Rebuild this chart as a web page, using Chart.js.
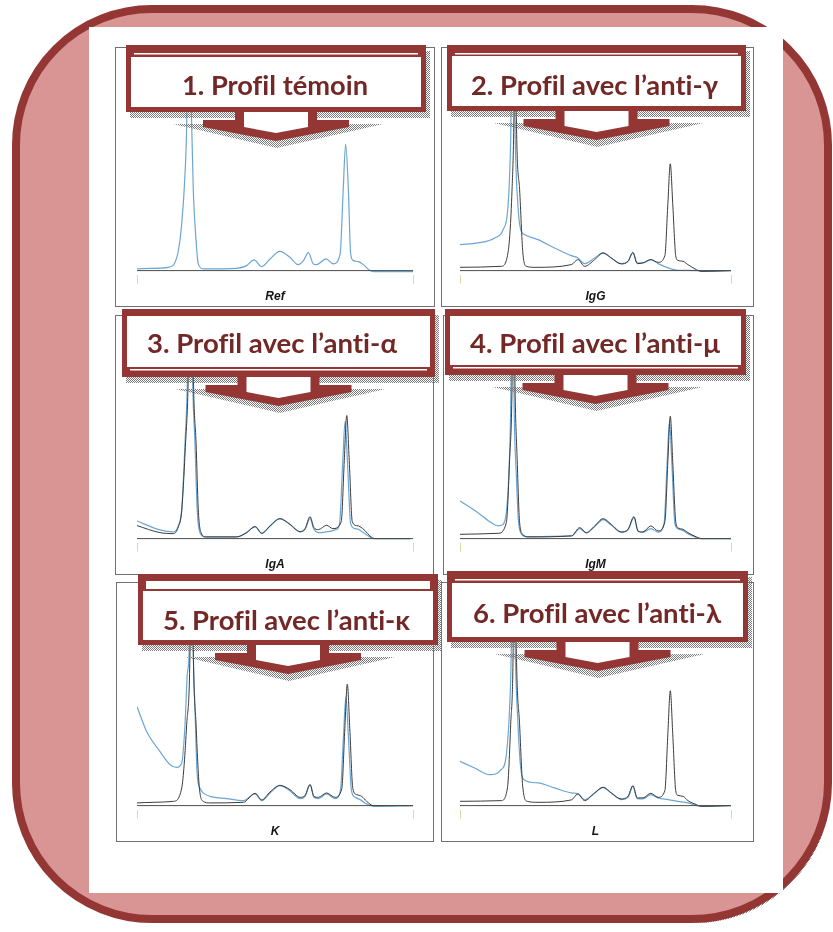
<!DOCTYPE html>
<html lang="fr">
<head>
<meta charset="utf-8">
<title>Immunosoustraction – profils électrophorétiques</title>
<script src="https://cdn.jsdelivr.net/npm/chart.js@4.4.1/dist/chart.umd.min.js"></script>
<style>
  html, body { margin: 0; padding: 0; background: #fff; }
  #stage { position: relative; width: 833px; height: 932px; overflow: hidden; background: #fff; }
  #stage svg { position: absolute; left: 0; top: 0; }
  #panels { position: absolute; left: 0; top: 0; }
  .panel { position: absolute; background: #fff; outline: 1px solid #707070; outline-offset: -1px; }
  .panel canvas { display: block; }
  #banners text { font-variant-ligatures: none; font-feature-settings: "liga" 0; }
</style>
</head>
<body>
<div id="stage">
  <svg id="frame" width="833" height="932"></svg>
  <div id="panels"></div>
  <svg id="banners" width="833" height="932"></svg>
</div>
<script>
// ---- Densitometric traces: [mobility (0–100), relative absorbance] ----
const baseline = [[0, 0], [100, 0]];

// 1. Control profile
const refControl = [[0,1.7],[5.3,2.3],[11.3,3.3],[14.4,13],[16.2,47],[17.4,97],[18.0,147],[18.8,330],[19.8,147],[20.4,80],[21.4,30],[22.2,6.7],[24.0,1.7],[36.1,2.3],[39.7,5],[42.4,10.7],[45.2,4],[48.2,11.7],[51.8,19.3],[55.4,13.3],[58.4,6],[60.3,10],[62.1,18],[63.9,6.7],[65.1,6],[68.5,11.7],[71.1,6.7],[73.6,16.7],[74.7,80],[75.6,126.7],[76.6,80],[77.4,16.7],[78.4,10],[80.2,9],[82.0,6],[84.4,0],[85.6,-1],[100,-1]];

// 2. Anti-gamma (IgG)
const igGRef = [[0,3.3],[15.2,4.3],[17.7,17.7],[19.2,81],[19.9,154],[20.4,300],[20.8,154],[22.0,81],[23.2,17.7],[24.5,4.3],[27.7,3.3],[41.1,6],[43.5,11],[46.0,4.3],[49.7,11],[52.8,17.7],[55.8,12.7],[59.5,6.7],[62.0,9.3],[63.8,18.3],[65.4,7],[67.5,7.7],[70.4,11],[73.1,8.3],[75.6,15],[76.7,67],[77.6,107],[78.5,67],[79.6,15],[80.4,10.3],[82.3,9.3],[84.1,6],[87.2,1],[89.0,-0.7],[100,0]];
const igGTest = [[0,26],[6.6,27.7],[12.8,32.7],[15.9,41],[17.7,64],[18.7,131],[19.6,300],[20.4,131],[21.4,64],[22.4,41],[23.9,36],[28.8,31],[34.9,22.7],[41.1,15],[43.5,12.7],[46.0,7],[49.7,12.7],[52.8,17.7],[55.8,12.7],[59.5,7],[62.0,9.3],[63.8,17.7],[65.4,7.7],[67.5,7.7],[70.4,11],[73.1,7],[76.8,2.7],[80.4,0.3],[87.8,0],[89.0,-0.7],[100,0]];

// 3. Anti-alpha (IgA)
const igARef = [[0,13],[8.3,6],[13.2,5],[15.0,12],[16.2,28],[17.6,96],[18.5,152.7],[19.6,330],[20.5,152.7],[21.4,96],[22.2,29.3],[23.2,6],[25.0,1.7],[36.1,1.7],[39.7,6],[42.8,12],[45.2,5.3],[48.2,12.7],[51.8,20],[55.4,14.3],[59.1,7],[60.9,10],[62.7,22],[64.1,11],[65.7,9],[68.7,13.3],[71.0,10],[74.0,17],[75.1,78],[76.0,123.3],[76.9,78],[78.0,17],[79.7,13],[80.8,12],[82.6,8],[84.4,2.7],[86.2,0],[98.9,0]];
const igATest = [[0,17.7],[8.3,8.7],[13.2,6.7],[15.0,13],[16.2,29.3],[17.4,96],[18.2,152.7],[19.2,330],[20.2,152.7],[21.0,96],[21.8,29.3],[22.8,6],[24.6,1.7],[36.1,1.7],[39.7,6],[42.8,12],[45.2,5.3],[48.2,12.7],[51.8,20],[55.4,14.3],[59.1,6.7],[60.9,9.3],[62.7,20],[64.1,9.3],[65.7,6],[68.7,6.7],[72.4,9.3],[73.4,15],[74.5,74],[75.4,117.7],[76.3,74],[77.4,15],[79.0,10],[80.2,9.3],[82.0,6],[83.8,2.7],[85.6,0],[98.9,0]];

// 4. Anti-mu (IgM)
const igMRef = [[0,4.3],[14.0,5.3],[17.1,16],[18.3,79],[19.2,152.7],[19.7,300],[20.3,152.7],[21.1,79],[22.0,16],[23.2,4],[25.1,1.7],[41.1,2.7],[44.2,11],[46.6,6],[49.7,12.7],[52.8,20],[55.8,14.3],[59.5,6.7],[62.0,9.3],[64.2,22],[65.7,7.7],[67.5,6.7],[70.4,12.7],[73.1,7.7],[75.6,17],[76.7,77],[77.6,122.7],[78.5,77],[79.6,17],[80.4,11],[82.3,9.3],[84.1,6],[87.2,1.7],[89.0,0],[100,0]];
const igMTest = [[0,37.7],[6.6,26],[11.5,16],[14.0,12.7],[15.9,14.3],[17.1,26],[18.0,62.7],[18.7,129],[19.4,300],[20.0,129],[20.8,62.7],[21.5,20],[22.6,5],[24.5,2],[41.1,2.7],[44.2,10],[46.6,5.5],[49.7,12],[52.8,19],[55.8,13.5],[59.5,6.2],[62.0,8.7],[64.2,21],[65.7,7.2],[67.5,6.2],[70.4,10],[73.1,6.5],[75.3,15],[76.4,74],[77.3,117.7],[78.2,74],[79.3,15],[80.4,10],[82.3,8],[84.1,5],[87.2,1.2],[89.0,0],[100,0]];

// 5. Anti-kappa
const kappaRef = [[0,2.7],[5.9,3.3],[13.2,4.3],[16.2,17.7],[18.0,81],[19.2,154],[19.8,320],[20.4,154],[21.4,81],[22.6,17.7],[24.0,4.3],[26.4,2.7],[38.5,3.3],[42.8,12.3],[45.2,5.7],[48.2,13.7],[51.8,20.3],[55.4,16],[59.1,8.3],[60.9,10.3],[62.7,21],[64.1,9.3],[65.7,8.3],[68.7,12.7],[71.7,8.3],[74.2,17],[75.3,77],[76.2,121.7],[77.1,77],[78.2,17],[79.6,11],[81.4,9.3],[83.2,4.3],[85.6,0],[100,0]];
const kappaTest = [[0,99.3],[3.5,74.3],[8.3,54.3],[12.0,41],[14.4,38.3],[16.2,42.7],[17.4,81],[18.2,131],[18.9,154],[19.7,320],[20.4,154],[21.0,97.7],[21.8,31],[22.8,17.7],[24.0,12.7],[26.4,9.3],[32.5,7],[38.5,5],[42.8,11.7],[45.2,5],[48.2,12.7],[51.8,20],[55.4,15],[59.1,7],[60.9,9.3],[62.7,21],[64.1,8.3],[65.7,7],[68.7,11.7],[71.7,7],[73.7,15],[74.8,69],[75.7,109.3],[76.6,69],[77.7,15],[79.0,8.3],[80.8,6],[83.2,1.7],[85.6,-0.7],[100,0]];

// 6. Anti-lambda
const lambdaRef = [[0,4.3],[15.2,5],[17.5,17.7],[18.7,81],[19.6,154],[20.1,320],[20.8,154],[22.0,81],[23.2,17.7],[24.8,4.3],[28.8,3.3],[41.1,5.7],[43.5,11.7],[46.0,5],[49.7,12.7],[52.8,18.3],[55.8,12.7],[59.5,6.7],[62.0,9.3],[63.8,20],[65.4,7.7],[67.5,7.7],[70.4,12.3],[73.1,8.3],[75.6,15],[76.7,72],[77.6,115],[78.5,72],[79.6,15],[80.4,10.3],[82.3,9.3],[84.1,5],[87.2,1],[89.0,-0.7],[100,0]];
const lambdaTest = [[0,44.3],[5.4,37.7],[11.0,31],[15.2,36],[17.1,51],[18.3,97.7],[18.9,154],[19.5,320],[20.4,154],[21.4,81],[22.4,37.7],[23.6,26],[28.8,22.7],[34.9,17.7],[41.1,12.7],[43.5,11.7],[46.0,6],[49.7,12.7],[52.8,18.3],[55.8,12.7],[59.5,6],[62.0,8.3],[63.8,19.3],[65.4,7],[67.5,6.7],[70.4,11],[73.1,7.7],[76.8,6],[80.4,4.3],[84.1,2.7],[87.2,0.3],[89.0,-0.7],[100,0]];

const panelLabels = ['Ref', 'IgG', 'IgA', 'IgM', 'K', 'L'];
const bannerTitles = [
  '1. Profil témoin',
  '2. Profil avec l’anti-γ',
  '3. Profil avec l’anti-α',
  '4. Profil avec l’anti-μ',
  '5. Profil avec l’anti-κ',
  '6. Profil avec l’anti-λ'
];

// ---- Styles ----
const RED = '#943634', PINK = '#D99594', TEXT_RED = '#722826';
const BLUE = '#6ba6d4', DARK = '#3c3c3c';

// ---- Page frame (rounded card with pink surround) ----
(function drawFrame() {
  const svg = document.getElementById('frame');
  svg.innerHTML = `
    <defs>
      <pattern id="chkA" width="2" height="2" patternUnits="userSpaceOnUse">
        <rect width="1" height="1" fill="#8a8a8a"/><rect x="1" y="1" width="1" height="1" fill="#8a8a8a"/>
      </pattern>
    </defs>
    <rect x="19" y="13" width="812" height="910" rx="136" ry="136" fill="url(#chkA)"/>
    <rect x="16" y="9" width="812" height="910" rx="136" ry="136" fill="${PINK}" stroke="${RED}" stroke-width="8"/>
    <rect x="89" y="27" width="694" height="866" fill="#ffffff"/>`;
})();

// ---- Chart panels ----
const panelLayout = [
  { x: 115, y: 47,  w: 320, padL: 22, padR: 22 },
  { x: 441, y: 47,  w: 313, padL: 19, padR: 23 },
  { x: 115, y: 315, w: 319, padL: 22, padR: 21 },
  { x: 443, y: 315, w: 311, padL: 17, padR: 23 },
  { x: 116, y: 582, w: 318, padL: 21, padR: 21 },
  { x: 441, y: 582, w: 313, padL: 19, padR: 23 }
];
const PANEL_H = 260;

const panelSeries = [
  [{ data: refControl, color: BLUE }],
  [{ data: igGRef, color: DARK }, { data: igGTest, color: BLUE }],
  [{ data: igARef, color: DARK }, { data: igATest, color: BLUE }],
  [{ data: igMRef, color: DARK }, { data: igMTest, color: BLUE }],
  [{ data: kappaRef, color: DARK }, { data: kappaTest, color: BLUE }],
  [{ data: lambdaRef, color: DARK }, { data: lambdaTest, color: BLUE }]
];

const toXY = arr => arr.map(([x, y]) => ({ x, y }));
const host = document.getElementById('panels');

panelLayout.forEach((p, i) => {
  const div = document.createElement('div');
  div.className = 'panel';
  Object.assign(div.style, { left: p.x + 'px', top: p.y + 'px', width: p.w + 'px', height: PANEL_H + 'px' });
  const cv = document.createElement('canvas');
  cv.width = p.w; cv.height = PANEL_H;
  div.appendChild(cv);
  host.appendChild(div);

  const datasets = [{
    data: toXY(baseline), borderColor: '#4d4d4d', borderWidth: 1, pointRadius: 0
  }].concat(panelSeries[i].map(s => ({
    data: toXY(s.data),
    borderColor: s.color,
    borderWidth: s.color === DARK ? 1 : 1.2,
    pointRadius: 0,
    cubicInterpolationMode: 'monotone',
    fill: false
  })));

  new Chart(cv, {
    type: 'line',
    data: { datasets },
    options: {
      responsive: false,
      animation: false,
      devicePixelRatio: 1,
      events: [],
      layout: { padding: { left: p.padL, right: p.padR, top: 0, bottom: 0 } },
      scales: {
        x: {
          type: 'linear', min: 0, max: 100, display: true,
          afterBuildTicks: s => { s.ticks = [{ value: 0 }, { value: 100 }]; },
          ticks: { display: false },
          grid: { drawOnChartArea: false, drawTicks: true, tickLength: 9, color: 'rgba(222,212,160,0.9)', lineWidth: 1 },
          border: { display: false }
        },
        y: { type: 'linear', min: -4, max: 224, display: false }
      },
      plugins: {
        legend: { display: false },
        tooltip: { enabled: false },
        title: {
          display: true, position: 'bottom', fullSize: false,
          text: panelLabels[i], color: '#151515',
          font: { family: "'Liberation Sans', Arial, sans-serif", size: 12, weight: 'bold', style: 'italic' },
          padding: { top: 6, bottom: 3 }
        }
      }
    }
  });
});

// ---- Title callouts (box + down arrow) ----
const bannerLayout = [
  { x: 126, y: 45,  w: 300, h: 67, thick: 'top',    inset: 12, lineOff: 8, line: 1.5, tx: 275,   ty: 95,  tw: 186 },
  { x: 447, y: 45,  w: 299, h: 66, thick: 'top',    inset: 11, lineOff: 8, line: 1.5, tx: 594.5, ty: 95,  tw: 247 },
  { x: 122, y: 309, w: 313, h: 68, thick: 'bottom', inset: 10, lineOff: 8, line: 1.5, tx: 272,   ty: 353, tw: 250 },
  { x: 445, y: 309, w: 301, h: 66, thick: 'bottom', inset: 10, lineOff: 8, line: 1.5, tx: 595,   ty: 353, tw: 250 },
  { x: 138, y: 574, w: 300, h: 71, thick: 'top',    inset: 17, lineOff: 7, line: 8,   tx: 286.5, ty: 630, tw: 247 },
  { x: 447, y: 571, w: 301, h: 71, thick: 'top',    inset: 12, lineOff: 8, line: 1.5, tx: 597,   ty: 623, tw: 248 }
];

(function drawBanners() {
  const svg = document.getElementById('banners');
  let out = `<defs>
      <pattern id="chkB" width="2" height="2" patternUnits="userSpaceOnUse">
        <rect width="1" height="1" fill="#7a7a7a"/><rect x="1" y="1" width="1" height="1" fill="#7a7a7a"/>
      </pattern>
    </defs>`;
  bannerLayout.forEach((b, i) => {
    const cx = b.x + b.w / 2, yb = b.y + b.h;
    const pts = a => a.map(q => q.join(',')).join(' ');
    // shadows
    out += `<rect x="${b.x + 4}" y="${b.y + 6}" width="${b.w}" height="${b.h}" fill="url(#chkB)"/>`;
    out += `<polygon points="${pts([[cx - 103, yb + 12], [cx + 107, yb + 12], [cx + 1, yb + 36]])}" fill="url(#chkB)"/>`;
    // red body
    out += `<rect x="${b.x}" y="${b.y}" width="${b.w}" height="${b.h}" fill="${RED}"/>`;
    out += `<polygon points="${pts([[cx - 41, yb - 1], [cx + 41, yb - 1], [cx + 41, yb + 8], [cx + 73, yb + 8], [cx + 73, yb + 15], [cx, yb + 29], [cx - 73, yb + 15], [cx - 73, yb + 8], [cx - 41, yb + 8]])}" fill="${RED}"/>`;
    // white interior
    let iy, ih, ly;
    if (b.thick === 'top') {
      iy = b.y + b.inset; ih = b.h - b.inset - 5; ly = b.y + b.lineOff;
    } else {
      iy = b.y + 7; ih = b.h - 7 - b.inset; ly = yb - b.lineOff;
    }
    out += `<rect x="${b.x + 5}" y="${iy}" width="${b.w - 10}" height="${ih}" fill="#fff"/>`;
    out += `<rect x="${b.x + 8}" y="${ly}" width="${b.w - 16}" height="${b.line}" fill="#fff"/>`;
    out += `<polygon points="${pts([[cx - 32, yb], [cx + 32, yb], [cx + 32, yb + 15], [cx, yb + 21], [cx - 32, yb + 15]])}" fill="#fff"/>`;
    // title
    out += `<text x="${b.tx}" y="${b.ty}" text-anchor="middle" textLength="${b.tw}" lengthAdjust="spacingAndGlyphs"
      font-family="Lato, 'Open Sans', sans-serif" font-weight="700" font-size="26" fill="${TEXT_RED}">${bannerTitles[i]}</text>`;
  });
  svg.innerHTML = out;
})();
</script>
</body>
</html>
